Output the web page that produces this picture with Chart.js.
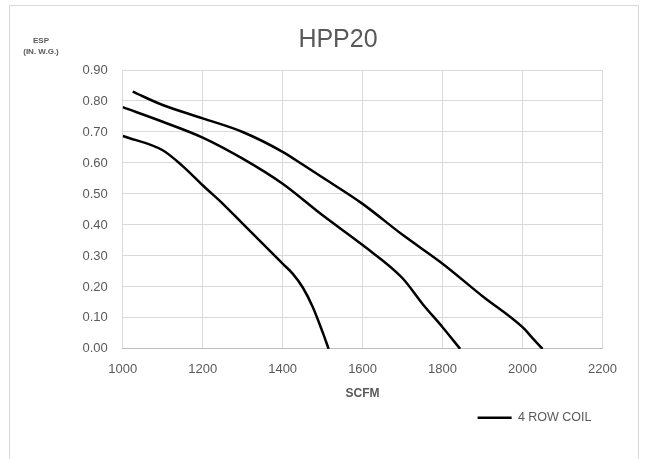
<!DOCTYPE html>
<html>
<head>
<meta charset="utf-8">
<script src="https://cdn.jsdelivr.net/npm/chart.js@4"></script>
<style>
    body { margin: 0; background: #fff; }
    #wrap { position: relative; width: 647px; height: 459px; }
    #frame { position: absolute; left: 9px; top: 5px; width: 628px; height: 470px; border: 1px solid #d9d9d9; }
    canvas { position: absolute; left: 0; top: 0; }
</style>
</head>
<body>
<div id="wrap">
    <div id="frame"></div>
    <canvas id="fanChart" width="647" height="459"></canvas>
</div>
<script>
// Fan curves (SCFM vs ESP)
const curveHighX = [1025, 1100, 1200, 1300, 1400, 1450, 1500, 1600, 1700, 1800, 1900, 2000, 2025, 2050];
const curveHighY = [0.83, 0.787, 0.744, 0.70, 0.636, 0.595, 0.553, 0.468, 0.368, 0.275, 0.17, 0.07, 0.035, 0.0];

const curveMidX = [1000, 1100, 1200, 1300, 1400, 1500, 1600, 1700, 1750, 1800, 1844];
const curveMidY = [0.78, 0.733, 0.682, 0.614, 0.533, 0.431, 0.335, 0.228, 0.145, 0.07, 0.0];

const curveLowX = [1000, 1100, 1150, 1200, 1250, 1300, 1350, 1400, 1425, 1450, 1475, 1500, 1515];
const curveLowY = [0.687, 0.641, 0.59, 0.528, 0.469, 0.404, 0.34, 0.275, 0.243, 0.199, 0.136, 0.054, 0.0];

const seriesName = "4 ROW COIL";
const chartTitle = "HPP20";
const yCaption = ["ESP", "(IN. W.G.)"];
const xCaption = "SCFM";

const textGray = "#595959";
const gridGray = "#d9d9d9";

function toPoints(xs, ys) {
    return xs.map((x, i) => ({ x: x, y: ys[i] }));
}

function lineSet(xs, ys) {
    return {
        label: seriesName,
        data: toPoints(xs, ys),
        borderColor: "#000",
        backgroundColor: "#000",
        borderWidth: 2.5,
        pointRadius: 0,
        cubicInterpolationMode: "monotone",
        fill: false
    };
}

// Title and the small axis caption above the y ticks
const captions = {
    id: "captions",
    afterDraw(chart) {
        const c = chart.ctx;
        c.save();
        c.fillStyle = textGray;
        c.textAlign = "center";
        c.textBaseline = "middle";
        c.font = "300 25px 'Liberation Sans', sans-serif";
        c.fillText(chartTitle, 338, 40);
        c.font = "bold 8px 'Liberation Sans', sans-serif";
        c.fillText(yCaption[0], 41, 41);
        c.fillText(yCaption[1], 41, 52);
        c.restore();
    }
};

new Chart(document.getElementById("fanChart"), {
    type: "line",
    data: {
        datasets: [
            lineSet(curveHighX, curveHighY),
            lineSet(curveMidX, curveMidY),
            lineSet(curveLowX, curveLowY)
        ]
    },
    options: {
        responsive: false,
        animation: false,
        layout: { padding: { left: 9, right: 44.5, top: 70, bottom: 25 } },
        plugins: {
            title: { display: false },
            tooltip: { enabled: false },
            legend: {
                position: "bottom",
                align: "end",
                fullSize: false,
                labels: {
                    color: textGray,
                    font: { family: "'Liberation Sans', sans-serif", size: 12.5 },
                    usePointStyle: true,
                    pointStyle: "line",
                    pointStyleWidth: 34,
                    boxHeight: 10,
                    padding: 11,
                    filter: item => item.datasetIndex === 0
                }
            }
        },
        scales: {
            x: {
                type: "linear",
                min: 1000,
                max: 2200,
                ticks: {
                    stepSize: 200,
                    color: textGray,
                    padding: 13,
                    font: { family: "'Liberation Sans', sans-serif", size: 13 },
                    callback: v => String(v)
                },
                grid: { color: gridGray, drawTicks: false },
                border: { color: "#bfbfbf" },
                title: {
                    display: true,
                    text: xCaption,
                    color: textGray,
                    padding: 0,
                    font: { family: "'Liberation Sans', sans-serif", size: 12, weight: "bold" }
                },
                afterFit(scale) { scale.height = 51.6; }
            },
            y: {
                min: 0,
                max: 0.9,
                ticks: {
                    stepSize: 0.1,
                    color: textGray,
                    padding: 15,
                    font: { family: "'Liberation Sans', sans-serif", size: 13 },
                    callback: v => v.toFixed(2)
                },
                grid: { color: gridGray, drawTicks: false },
                border: { display: false },
                afterFit(scale) { scale.width = 113.7; }
            }
        }
    },
    plugins: [captions]
});
</script>
</body>
</html>
